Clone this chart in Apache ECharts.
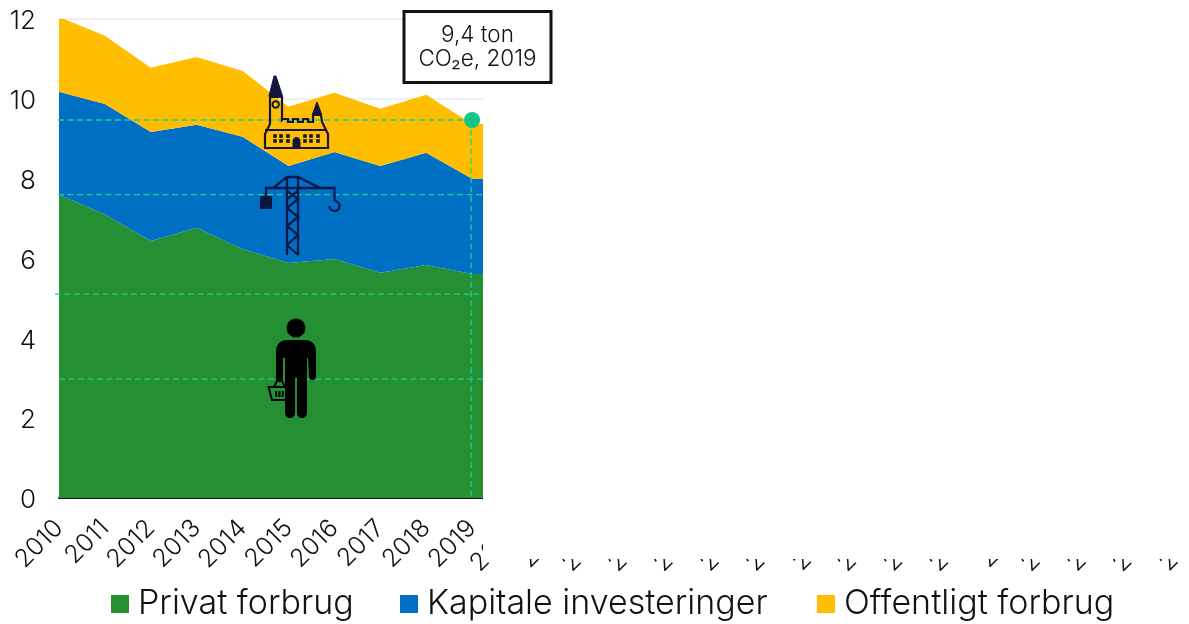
<!DOCTYPE html>
<html><head><meta charset="utf-8">
<style>html,body{margin:0;padding:0;background:#fff}#c{width:1189px;height:624px}</style>
<script src="https://cdn.jsdelivr.net/npm/echarts@6/dist/echarts.min.js"></script>
</head><body><div id="c"></div>
<script>
const years = ['2010','2011','2012','2013','2014','2015','2016','2017','2018','2019','2020','2021','2022','2023','2024','2025','2026','2027','2028','2029','2030','2031','2032','2033','2034','2035'];
const privat = [7.6,7.1,6.44,6.77,6.24,5.89,5.99,5.64,5.84,5.61,5.61];
const kapital = [2.58,2.77,2.73,2.58,2.81,2.43,2.68,2.68,2.81,2.39,2.39];
const offentlig = [1.87,1.71,1.61,1.70,1.65,1.48,1.48,1.43,1.45,1.37,1.37];
const guideLevels = [[9.47,-1,9],[7.6,-1,10],[5.11,-4,10],[2.98,0,10]];
const total2019 = 9.47;
const FONT = 'Inter';
const NAVY = '#14143c';
const GUIDE = '#1fd08f';
const area = (name,data,color)=>({name,type:'line',stack:'t',data,symbol:'none',lineStyle:{width:0},itemStyle:{color},areaStyle:{color,opacity:1},z:2,silent:true});
const leg = (name,left)=>({data:[name],left,top:583,icon:'rect',itemWidth:18,itemHeight:18,itemGap:0,padding:[4,0,4,0],textStyle:{fontFamily:FONT,fontWeight:300,fontSize:34,color:'#111',padding:[0,0,0,4]}});
let wins='';
[275,281,288,305,311,318].forEach(x=>[136,141].forEach(y=>{wins+=`<rect x="${x-1.8}" y="${y-1.8}" width="3.6" height="3.6" fill="${NAVY}"/>`;}));
const iconSvg = `<svg xmlns="http://www.w3.org/2000/svg" width="1189" height="624" viewBox="0 0 1189 624">
<circle cx="296" cy="328" r="9.5" fill="#000"/>
<path fill="#000" d="M276 378 L276 352 Q276 340 288 340 L304 340 Q316 340 316 352 L316 376 Q316 380 312 380 Q309 380 309 376 L308 358 L307 358 L307 412 Q307 418 302 418 Q297 418 297 412 L297 378 L295 378 L295 412 Q295 418 290 418 Q285 418 285 412 L285 358 L283 358 L283 378 Q283 382 279.5 382 Q276 382 276 378Z"/>
<path fill="none" stroke="#000" stroke-width="2" d="M268.5 387 L290 387 L287 400 L272 400Z M274 387 L277 381 L282 381 L285 387 M276 391 L276.5 397 M279.5 391 L279.5 397 M283 391 L282.5 397"/>
<path fill="none" stroke="${NAVY}" stroke-width="2.2" d="M282 120 L282 97 L270 97 L270 124 L265 134 L265 148 L328 148 L328 134 L322 122 L321 115 L313 115 L313 122 L308 122 L308 119 L303 119 L303 122 L298 122 L298 119 L293 119 L293 122 L288 122 L288 119 L283 119 Z M265 130 L327 130"/>
<path fill="${NAVY}" stroke="${NAVY}" d="M269 96 L274 76 L276 76 L282.5 96Z M312.5 114 L317 102 L321.5 114Z M293 148 L293 142 Q293 137.5 296.5 137.5 Q300 137.5 300 142 L300 148Z"/>
<circle cx="275.7" cy="104.5" r="3.2" fill="none" stroke="${NAVY}" stroke-width="2"/>
${wins}
<path fill="none" stroke="#0b1a4a" stroke-width="2.3" d="M266 197 L266 188 L334.5 188 L334.5 201 M273 188 L287 177 L298 177 L320 188 M287 177 L287 255 M298 177 L298 255 M287 191 L298 199 L287 208 L298 217 L287 226 L298 235 L287 245 L298 255 M298 191 L287 199 M329.5 206 A5 5 0 1 0 335 201"/>
<rect x="260" y="196" width="12" height="13" fill="#0a1544"/>
</svg>`;
const chart = echarts.init(document.getElementById('c'),null,{renderer:'canvas'});
chart.setOption({
  animation:false,
  grid:{left:59,top:19,width:1147.5,height:479,containLabel:false,outerBoundsMode:'none'},
  legend:[leg('Privat forbrug',111),leg('Kapitale investeringer',400),leg('Offentligt forbrug',817)],
  xAxis:{type:'category',data:years,boundaryGap:false,axisTick:{show:false},axisLine:{show:true,lineStyle:{color:'#111',width:2}},
    axisLabel:{interval:0,rotate:45,margin:26,fontFamily:FONT,fontWeight:300,fontSize:25,color:'#111'},splitLine:{show:false}},
  yAxis:{type:'value',min:0,max:12,interval:2,axisLine:{show:false},axisTick:{show:false},
    axisLabel:{margin:23,formatter:v=>'{a|'+v+'}',rich:{a:{padding:[5,0,0,0],fontFamily:FONT,fontWeight:300,fontSize:26,color:'#111'}}},splitLine:{show:true,lineStyle:{color:'#f0f0f0',width:2}}},
  series:[
    area('Privat forbrug',privat,'#258f33'),
    area('Kapitale investeringer',kapital,'#0070c4'),
    area('Offentligt forbrug',offentlig,'#ffbf00'),
    {type:'custom',silent:true,z:3,data:guideLevels,renderItem:(p,api)=>{
      const v=api.value(0),a=api.coord([0,v]),b=api.coord([api.value(2),v]);
      return {type:'line',shape:{x1:a[0]+api.value(1),y1:a[1],x2:b[0],y2:b[1]},style:{stroke:GUIDE,lineWidth:1.3,lineDash:[6,3.5]}};
    },encode:{x:2,y:0}},
    {type:'custom',silent:true,z:3,data:[[9,total2019]],renderItem:(p,api)=>{
      const a=api.coord([api.value(0),api.value(1)]),b=api.coord([api.value(0),0]);
      return {type:'line',shape:{x1:a[0]-1,y1:a[1],x2:b[0]-1,y2:b[1]},style:{stroke:GUIDE,lineWidth:1.3,lineDash:[6,3.5]}};
    },encode:{x:0,y:1}},
    {type:'line',silent:true,z:4,data:years.slice(0,10).map((y,i)=>i===9?total2019:null),symbol:'circle',symbolSize:16,showSymbol:true,lineStyle:{width:0},itemStyle:{color:'#13c585'}}
  ],
  graphic:[
    {type:'rect',z:50,silent:true,shape:{x:483,y:0,width:720,height:559},style:{fill:'#fff'}},
    {type:'rect',z:55,silent:true,shape:{x:404,y:11.5,width:147,height:71},style:{fill:'#fff',stroke:'#111',lineWidth:3}},
    {type:'text',z:56,silent:true,style:{x:477.5,y:35,text:'9,4 ton',align:'center',verticalAlign:'middle',fontFamily:FONT,fontWeight:300,fontSize:22.5,fill:'#111'}},
    {type:'text',z:56,silent:true,style:{x:477.5,y:59.5,text:'CO₂e, 2019',align:'center',verticalAlign:'middle',fontFamily:FONT,fontWeight:300,fontSize:22.5,fill:'#111'}},
    {type:'image',z:60,silent:true,style:{image:'data:image/svg+xml;charset=utf-8,'+encodeURIComponent(iconSvg),x:0,y:0,width:1189,height:624}}
  ]
});
</script></body></html>
